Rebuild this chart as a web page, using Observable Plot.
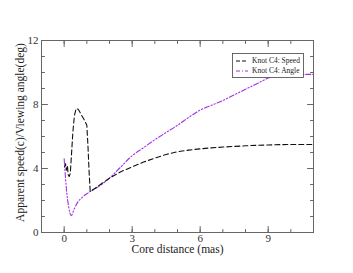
<!DOCTYPE html>
<html><head><meta charset="utf-8">
<script src="https://cdn.jsdelivr.net/npm/d3@7"></script>
<script src="https://cdn.jsdelivr.net/npm/@observablehq/plot@0.6"></script>
<style>body{margin:0;background:#fff}#c{position:relative;width:353px;height:273px}
#c svg, #c svg text{font-family:"Liberation Serif","DejaVu Serif",serif !important}</style>
</head><body><div id="c"></div>
<script>
const speedX = [0.02,0.06,0.1,0.14,0.18,0.22,0.27,0.32,0.38,0.45,0.53,0.62,0.72,0.82,0.92,1.0,1.05,1.1,1.15,1.3,1.5,1.75,2,2.5,3,3.5,4,4.5,5,5.5,6,6.5,7,7.5,8,8.5,9,9.5,10,10.5,11];
const speedY = [4.1,4.3,3.9,4.2,3.6,3.5,3.7,4.8,6.2,7.3,7.75,7.7,7.45,7.2,6.95,6.7,5.4,3.8,2.55,2.7,2.9,3.15,3.4,3.8,4.1,4.4,4.65,4.88,5.05,5.15,5.23,5.29,5.34,5.38,5.42,5.45,5.47,5.49,5.5,5.5,5.5];
const angleX = [0.0,0.03,0.1,0.2,0.31,0.45,0.6,0.8,1.0,1.5,2,2.5,3,3.5,4,4.5,5,5.5,6,6.5,7,7.5,8,8.5,9,9.4,10,10.5,11];
const angleY = [4.6,4.0,2.7,1.6,1.05,1.5,1.9,2.2,2.42,2.85,3.4,4.1,4.8,5.3,5.8,6.25,6.7,7.2,7.65,7.95,8.25,8.6,8.95,9.3,9.65,9.88,9.88,9.88,9.88];
const xMajor = [0,3,6,9];
const xMinor = [-1,0,1,2,3,4,5,6,7,8,9,10,11];
const yMajor = [0,4,8,12];
const yMinor = [0,1,2,3,4,5,6,7,8,9,10,11,12];
const seriesNames = ["Knot C4: Speed","Knot C4: Angle"];

const speed = speedX.map((x,i)=>({x,y:speedY[i]}));
const angle = angleX.map((x,i)=>({x,y:angleY[i]}));
const purple = "#a030e8";
const frameColor = "#666";
const tickShape = {draw(ctx,l){ctx.moveTo(0,0);ctx.lineTo(0,-l);}};
const vt = (data, opts) => Plot.vector(data, {anchor:"start", shape:tickShape, stroke:frameColor, strokeWidth:1, ...opts});

const plot = Plot.plot({
  width:353, height:273,
  marginLeft:41, marginRight:40, marginTop:40, marginBottom:41,
  style:{background:"#fff", overflow:"visible"},
  x:{domain:[-1,11]},
  y:{domain:[0,12]},
  marks:[
    Plot.line(angle,{x:"x",y:"y",stroke:purple,strokeWidth:1.1,strokeDasharray:"5,2,1.3,2,1.3,2",curve:"monotone-x"}),
    Plot.line(speed,{x:"x",y:"y",stroke:"#111",strokeWidth:1.1,strokeDasharray:"5,3"}),
    vt(xMinor,{x:d=>d,frameAnchor:"bottom",length:3,rotate:0}),
    vt(xMajor,{x:d=>d,frameAnchor:"bottom",length:6,rotate:0}),
    vt(xMinor,{x:d=>d,frameAnchor:"top",length:3,rotate:180}),
    vt(xMajor,{x:d=>d,frameAnchor:"top",length:6,rotate:180}),
    vt(yMinor,{y:d=>d,frameAnchor:"left",length:3,rotate:90}),
    vt(yMajor,{y:d=>d,frameAnchor:"left",length:6,rotate:90}),
    vt(yMinor,{y:d=>d,frameAnchor:"right",length:3,rotate:-90}),
    vt(yMajor,{y:d=>d,frameAnchor:"right",length:6,rotate:-90}),
    Plot.axisX(xMajor,{tickSize:0,tickPadding:2,fontSize:11,fill:"#333",label:null}),
    Plot.axisY(yMajor,{tickSize:0,tickPadding:3,fontSize:11,fill:"#333",label:null}),
    Plot.text(["Core distance (mas)"],{frameAnchor:"bottom",dy:17,fontSize:11.5,fill:"#222",lineAnchor:"middle"}),
    Plot.text(["Apparent speed(c)/Viewing angle(deg)"],{frameAnchor:"left",textAnchor:"middle",dx:-21,dy:-4,rotate:-90,fontSize:11.5,fill:"#222"}),
    Plot.frame({stroke:frameColor,strokeWidth:1})
  ]
});
document.getElementById("c").appendChild(plot);

const svg = d3.select(plot);
const g = svg.append("g").attr("font-size",7.5).attr("text-anchor","start");
g.append("rect").attr("x",232.5).attr("y",53.5).attr("width",71).attr("height",24).attr("fill","#fff").attr("stroke","#444").attr("stroke-width",0.8);
const styles = [{stroke:"#111",dash:"4,2"},{stroke:purple,dash:"4,2,1,2"}];
seriesNames.forEach((n,i)=>{
  const y = 61 + i*10;
  g.append("line").attr("x1",236).attr("x2",248).attr("y1",y).attr("y2",y).attr("stroke",styles[i].stroke).attr("stroke-width",1.1).attr("stroke-dasharray",styles[i].dash);
  g.append("text").attr("x",252).attr("y",y).attr("dy","0.32em").attr("fill","#222").attr("text-anchor","start").text(n);
});
</script></body></html>
